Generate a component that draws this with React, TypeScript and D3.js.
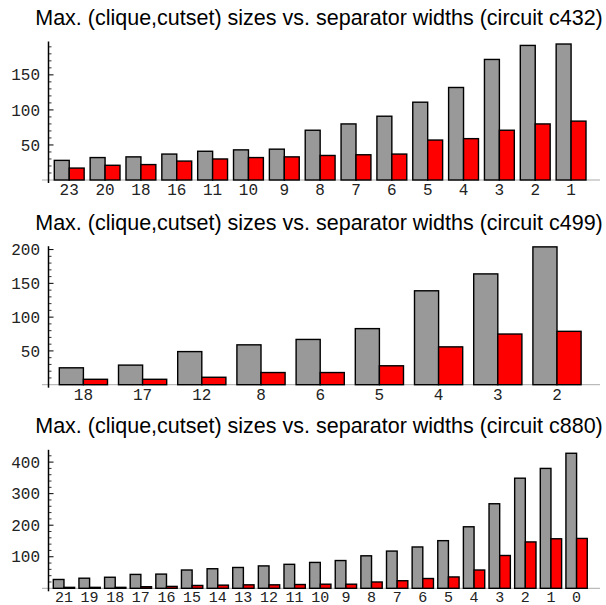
import * as d3 from 'd3';

// circuit c432
const c432Widths = ['23', '20', '18', '16', '11', '10', '9', '8', '7', '6', '5', '4', '3', '2', '1'];
const c432Clique = [28, 32, 33, 37, 41, 43, 44, 71, 80, 91, 111, 132, 172, 192, 194];
const c432Cutset = [17, 21, 22, 27, 30, 32, 33, 35, 36, 37, 57, 59, 71, 80, 84];

// circuit c499
const c499Widths = ['18', '17', '12', '8', '6', '5', '4', '3', '2'];
const c499Clique = [25, 29, 49, 59, 67, 83, 139, 164, 204];
const c499Cutset = [8, 8, 11, 18, 18, 28, 56, 75, 79];

// circuit c880
const c880Widths = ['21', '19', '18', '17', '16', '15', '14', '13', '12', '11', '10', '9', '8', '7', '6', '5', '4', '3', '2', '1', '0'];
const c880Clique = [28, 32, 35, 44, 45, 58, 62, 66, 71, 76, 82, 88, 103, 118, 131, 151, 195, 268, 349, 380, 428];
const c880Cutset = [3, 3, 3, 5, 6, 9, 10, 11, 11, 12, 13, 13, 20, 24, 31, 36, 58, 104, 147, 157, 158];

const c432Ticks = [50, 100, 150];
const c499Ticks = [50, 100, 150, 200];
const c880Ticks = [100, 200, 300, 400];

const series = ['clique', 'cutset'];
const colors = ['#999999', '#ff0000'];

interface PanelProps {
  title: string;
  widths: string[];
  clique: number[];
  cutset: number[];
  ticks: number[];
  minorStep: number;
  yMax: number;
  zero: number;
  x0: number;
  x1: number;
  pad: number;
  labelSize?: number;
  labelDy?: number;
}

const AXIS_X = 48.5;
const PLOT_H = 138.5;

const Panel = ({ title, widths, clique, cutset, ticks, minorStep, yMax, zero, x0, x1, pad, labelSize = 16, labelDy = 15 }: PanelProps) => {
  const y = d3.scaleLinear().domain([0, yMax]).range([zero, zero - PLOT_H]);
  const x = d3.scaleBand().domain(widths).range([x0, x1]).paddingInner(pad).paddingOuter(pad / 2);
  const xs = d3.scaleBand().domain(series).range([0, x.bandwidth()]);
  const minors = d3.range(minorStep, yMax, minorStep).filter(v => !ticks.includes(v));

  return (
    <g>
      <text x={319} y={zero - 155} textAnchor="middle" fontFamily="Liberation Sans, Arial, sans-serif" fontSize={21.5} fill="#000">
        {title}
      </text>
      <line x1={42} x2={600} y1={zero} y2={zero} stroke="#aaa" strokeWidth={1} />
      {widths.map((w, i) => (
        <g key={w} transform={`translate(${x(w)},0)`}>
          {[clique[i], cutset[i]].map((v, j) => (
            <rect
              key={j}
              x={xs(series[j])}
              y={y(v)}
              width={xs.bandwidth()}
              height={zero - y(v)}
              fill={colors[j]}
              stroke="#000"
              strokeWidth={1.4}
            />
          ))}
          <text
            x={x.bandwidth() / 2}
            y={zero + labelDy}
            textAnchor="middle"
            fontFamily="Liberation Mono, monospace"
            fontSize={labelSize}
            fill="#222"
          >
            {w}
          </text>
        </g>
      ))}
      <line x1={AXIS_X} x2={AXIS_X} y1={y(yMax)} y2={zero + 3} stroke="#000" strokeWidth={1.5} />
      {minors.map(v => (
        <line key={v} x1={AXIS_X} x2={AXIS_X + 3} y1={y(v)} y2={y(v)} stroke="#000" strokeWidth={0.8} />
      ))}
      {ticks.map(v => (
        <g key={v}>
          <line x1={AXIS_X} x2={AXIS_X + 5} y1={y(v)} y2={y(v)} stroke="#000" strokeWidth={1} />
          <text
            x={40}
            y={y(v)}
            dy="0.35em"
            textAnchor="end"
            fontFamily="Liberation Mono, monospace"
            fontSize={16}
            fill="#222"
          >
            {v}
          </text>
        </g>
      ))}
    </g>
  );
};

const App = () => (
  <svg width={606} height={605} style={{ position: 'absolute', left: 0, top: 0, background: '#fff' }}>
    <Panel
      title="Max. (clique,cutset) sizes vs. separator widths (circuit c432)"
      widths={c432Widths}
      clique={c432Clique}
      cutset={c432Cutset}
      ticks={c432Ticks}
      minorStep={10}
      yMax={197.6}
      zero={180}
      x0={51.3}
      x1={589}
      pad={0.167}
    />
    <Panel
      title="Max. (clique,cutset) sizes vs. separator widths (circuit c499)"
      widths={c499Widths}
      clique={c499Clique}
      cutset={c499Cutset}
      ticks={c499Ticks}
      minorStep={10}
      yMax={205}
      zero={384.7}
      x0={53.8}
      x1={586.6}
      pad={0.186}
    />
    <Panel
      title="Max. (clique,cutset) sizes vs. separator widths (circuit c880)"
      widths={c880Widths}
      clique={c880Clique}
      cutset={c880Cutset}
      ticks={c880Ticks}
      minorStep={20}
      yMax={439}
      zero={588.3}
      x0={51.15}
      x1={589.4}
      pad={0.168}
      labelSize={15}
      labelDy={13.2}
    />
  </svg>
);

export default App;
